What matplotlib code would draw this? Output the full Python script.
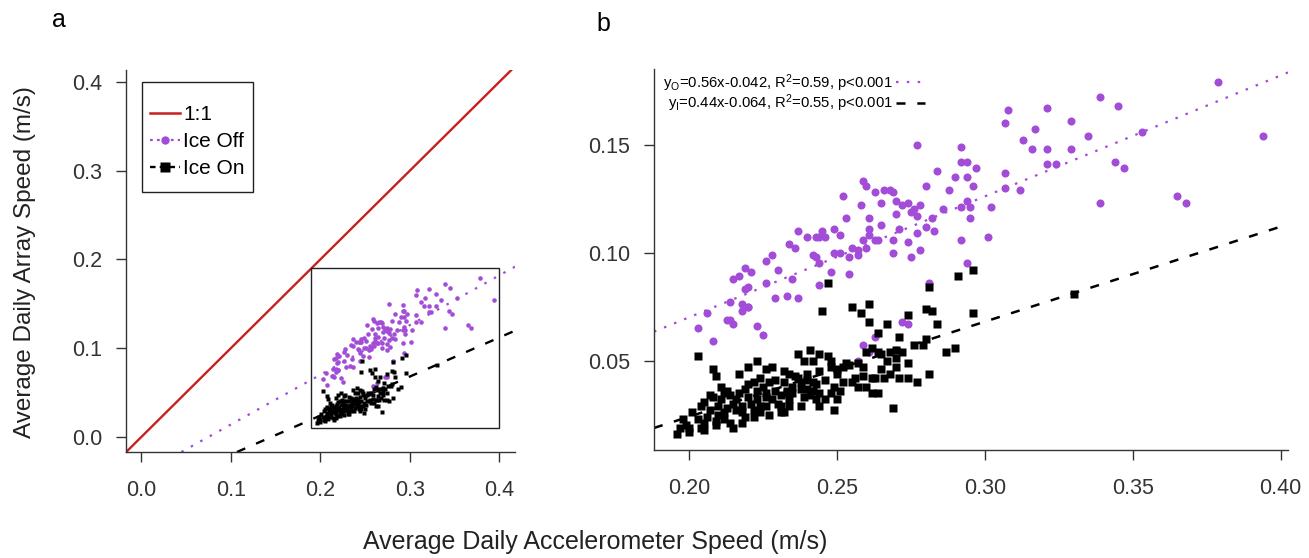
import matplotlib
matplotlib.use("Agg")
import matplotlib.pyplot as plt
from matplotlib.lines import Line2D
from matplotlib.patches import Rectangle

plt.rcParams['font.family'] = ['Liberation Sans', 'DejaVu Sans']
plt.rcParams['mathtext.fontset'] = 'custom'
plt.rcParams['mathtext.rm'] = 'Liberation Sans'
plt.rcParams['mathtext.it'] = 'Liberation Sans:italic'
plt.rcParams['lines.scale_dashes'] = False

# ---------------- data ----------------
ice_off_x = [
    .203, .208, .206, .213, .215, .214, .214, .218, .220, .220, .218, .223, .225, .215, .217, .219,
    .221, .219, .220, .226, .226, .228, .229, .230, .233, .234, .236, .235, .237, .237, .240,
    .243, .244, .246, .245, .242, .243, .244, .244, .248, .249, .249, .251, .251, .252, .253, .254,
    .254, .255, .257, .257, .258, .259, .260, .259, .260, .261, .261, .261, .263, .263, .264, .265,
    .265, .266, .268, .269, .269, .269, .270, .270, .271, .272, .274, .274, .275, .276, .278, .277,
    .275, .277, .278, .277, .280, .280, .281, .282, .283, .284, .286, .288, .290, .292, .272, .274,
    .263, .259, .261, .270, .257,
    .292, .292, .294, .297, .294, .296, .294, .295, .292, .295, .294, .301, .302, .307, .308, .307,
    .307, .312, .313, .316, .317, .321, .321, .321, .324, .329, .329, .335, .339, .339, .344, .345,
    .347, .353, .365, .368, .379, .394]
ice_off_y = [
    .065, .059, .072, .069, .067, .069, .077, .076, .075, .075, .073, .066, .062, .088, .089, .093,
    .091, .083, .084, .096, .086, .099, .079, .092, .080, .104, .102, .088, .079, .110, .107,
    .107, .107, .107, .110, .099, .098, .095, .085, .091, .111, .100, .100, .108, .126, .116, .098,
    .090, .102, .099, .101, .122, .133, .131, .106, .102, .116, .111, .108, .106, .128, .106, .123,
    .113, .129, .129, .128, .106, .100, .124, .118, .111, .122, .123, .105, .119, .120, .122, .117,
    .098, .109, .101, .150, .131, .112, .086, .116, .110, .138, .120, .129, .135, .106, .068, .067,
    .061, .057, .054, .055, .050,
    .142, .149, .142, .139, .135, .131, .124, .121, .121, .116, .095, .107, .121, .160, .166, .137,
    .130, .129, .152, .148, .157, .148, .167, .141, .141, .161, .148, .154, .172, .123, .142, .168,
    .139, .156, .126, .123, .179, .154]

ice_on_x = [
    .203, .208, .209, .217, .220, .223, .226, .228, .224, .227, .232, .234, .237, .239, .241, .240,
    .242, .212, .214, .211, .210, .208, .217, .220, .221, .218, .216, .218, .222, .224, .226, .226,
    .228, .231, .233, .235, .238, .240, .242, .231, .232, .238, .239, .201, .203, .205, .206, .204,
    .207, .210, .212, .214, .215, .222, .224, .198, .197, .196, .200, .213, .204, .219, .226, .230,
    .231, .237, .238, .233, .235, .243, .242, .243, .244, .205, .209, .212, .216, .223, .227, .234,
    .241, .223, .220, .200, .199,
    .205, .207, .211, .215, .219, .222, .225, .229, .232, .236, .244, .246, .218, .213, .229, .234,
    .209, .240,
    .247, .245, .255, .261, .258, .261, .267, .274, .280, .282, .284, .296, .291, .296, .281, .264,
    .271, .280, .279, .276, .287, .290, .260, .262, .264, .265, .268, .270, .272, .267, .270, .274,
    .270, .268, .265, .281, .277, .274, .271, .266, .263, .262, .260, .262, .269, .259, .256, .259,
    .257, .254, .252, .250, .248, .247, .248, .244, .250, .252, .249, .248, .246, .251, .250, .249,
    .244, .255, .257, .253, .264, .330]
ice_on_y = [
    .052, .046, .043, .044, .047, .050, .046, .047, .042, .040, .045, .044, .053, .050, .055, .044,
    .050, .035, .034, .032, .029, .033, .035, .033, .030, .029, .027, .026, .027, .029, .033, .035,
    .032, .034, .036, .038, .040, .041, .040, .029, .026, .029, .033, .026, .023, .021, .024, .019,
    .027, .025, .023, .021, .019, .024, .026, .023, .019, .016, .019, .036, .029, .024, .029, .030,
    .026, .042, .037, .035, .035, .039, .036, .032, .029, .018, .020, .026, .032, .032, .025, .032,
    .034, .036, .039, .017, .020,
    .031, .034, .038, .030, .037, .040, .038, .041, .040, .043, .045, .041, .021, .028, .036, .029,
    .022, .037,
    .086, .073, .075, .076, .072, .068, .067, .071, .074, .073, .067, .072, .089, .092, .084, .063,
    .061, .060, .057, .057, .054, .056, .054, .056, .054, .053, .054, .055, .054, .050, .051, .049,
    .047, .044, .046, .044, .040, .042, .042, .042, .042, .042, .038, .035, .028, .043, .042, .047,
    .049, .048, .047, .046, .047, .052, .050, .053, .044, .040, .038, .035, .032, .036, .032, .027,
    .035, .040, .038, .049, .035, .081]

off_slope, off_intercept, off_r2 = 0.56, -0.042, 0.59
on_slope, on_intercept, on_r2 = 0.44, -0.064, 0.55

a_ticks = [0.0, 0.1, 0.2, 0.3, 0.4]
b_xticks = [0.20, 0.25, 0.30, 0.35, 0.40]
b_yticks = [0.05, 0.10, 0.15]
zoom_x0, zoom_x1 = 0.19, 0.40
zoom_y0, zoom_y1 = 0.01, 0.19

# ---------------- style ----------------
PURPLE = '#A24CD8'
RED = '#C8201E'
DARK = '#222222'
DOT = (1.8, 6.0)
DASH = (6.5, 8.5)

W, H = 1309, 558
fig = plt.figure(figsize=(W / 100, H / 100), dpi=100)
ax_a = fig.add_axes([126 / W, 106 / H, 389 / W, 382 / H])
ax_b = fig.add_axes([654 / W, 108 / H, 634 / W, 381 / H])

for ax in (ax_a, ax_b):
    ax.spines['top'].set_visible(False)
    ax.spines['right'].set_visible(False)
    for s in ('left', 'bottom'):
        ax.spines[s].set_color('#333333')
        ax.spines[s].set_linewidth(1.0)
    ax.tick_params(direction='out', length=7, width=1, color='#333333',
                   labelsize=15.5, labelcolor='#333333')
    ax.tick_params(axis='x', pad=13)
    ax.tick_params(axis='y', pad=10)

# ---- panel a ----
ax_a.axline((0, 0), slope=1, color=RED, lw=1.7, zorder=2)
ax_a.axline((0, off_intercept), slope=off_slope, color=PURPLE, lw=1.6, dashes=DOT, zorder=2)
ax_a.axline((0, on_intercept), slope=on_slope, color='black', lw=1.7, dashes=DASH, zorder=2)
ax_a.plot(ice_off_x, ice_off_y, 'o', color=PURPLE, ms=3.3, mec='none', zorder=3)
ax_a.plot(ice_on_x, ice_on_y, 's', color='black', ms=3.0, mec='none', zorder=3)
ax_a.add_patch(Rectangle((zoom_x0, zoom_y0), zoom_x1 - zoom_x0, zoom_y1 - zoom_y0,
                         fill=False, ec=DARK, lw=1.0, zorder=4))
ax_a.set_xlim(-0.0172, 0.4176)
ax_a.set_ylim(-0.017, 0.4135)
ax_a.set_xticks(a_ticks)
ax_a.set_yticks(a_ticks)
ax_a.set_xticklabels([f"{t:.1f}" for t in a_ticks])
ax_a.set_yticklabels([f"{t:.1f}" for t in a_ticks])

# legend box (frame drawn separately to match R's margins)
ax_a.add_patch(Rectangle((16 / 389, 260 / 382), 111 / 389, 110 / 382, transform=ax_a.transAxes,
                         fill=False, ec=DARK, lw=1.0, zorder=5))
h_a = [Line2D([], [], color=RED, lw=1.8),
       Line2D([], [], color=PURPLE, lw=1.6, dashes=(2, 3), marker='o', ms=6, mec='none'),
       Line2D([], [], color='black', lw=1.7, dashes=(4, 3), marker='s', ms=6.5, mec='none')]
ax_a.legend(h_a, ['1:1', 'Ice Off', 'Ice On'], loc='upper left',
            bbox_to_anchor=(24 / 389, (452 - 105) / 382), borderaxespad=0, fontsize=15,
            frameon=False, handlelength=1.45, handletextpad=0.15, labelspacing=0.39,
            borderpad=0, numpoints=1)

# ---- panel b ----
ax_b.axline((0, off_intercept), slope=off_slope, color=PURPLE, lw=1.6, dashes=DOT, zorder=2)
ax_b.axline((0, on_intercept), slope=on_slope, color='black', lw=1.8, dashes=DASH, zorder=2)
ax_b.plot(ice_off_x, ice_off_y, 'o', color=PURPLE, ms=5.8, mec='none', zorder=3)
ax_b.plot(ice_on_x, ice_on_y, 's', color='black', ms=5.8, mec='none', zorder=3)
ax_b.set_xlim(0.1882, 0.4025)
ax_b.set_ylim(0.0086, 0.185)
ax_b.set_xticks(b_xticks)
ax_b.set_yticks(b_yticks)
ax_b.set_xticklabels([f"{t:.2f}" for t in b_xticks])
ax_b.set_yticklabels([f"{t:.2f}" for t in b_yticks])

lab_off = f"y$_\\mathrm{{O}}$={off_slope:.2f}x{off_intercept:.3f}, R$^2$={off_r2:.2f}, p<0.001"
lab_on = f"y$_\\mathrm{{I}}$={on_slope:.2f}x{on_intercept:.3f}, R$^2$={on_r2:.2f}, p<0.001"
h_b = [Line2D([], [], color=PURPLE, lw=1.6, dashes=DOT),
       Line2D([], [], color='black', lw=1.8, dashes=DASH)]
ax_b.legend(h_b, [lab_off, lab_on], loc='upper left', bbox_to_anchor=(9 / 634, 1 - 3 / 381),
            borderaxespad=0, frameon=False, fontsize=10.7, markerfirst=False,
            handlelength=2.0, handletextpad=0.2, labelspacing=-0.05, borderpad=0)

# ---- shared labels ----
fig.text(25 / W, 1 - 262 / H, 'Average Daily Array Speed (m/s)', rotation=90,
         ha='center', va='center', fontsize=17.5, color=DARK)
fig.text(595 / W, 1 - 549 / H, 'Average Daily Accelerometer Speed (m/s)',
         ha='center', va='baseline', fontsize=18, color=DARK)
fig.text(59 / W, 1 - 20 / H, 'a', ha='center', va='center', fontsize=18, color='black')
fig.text(603 / W, 1 - 24 / H, 'b', ha='center', va='center', fontsize=18, color='black')

fig.savefig('out.png', dpi=100, facecolor='white')
